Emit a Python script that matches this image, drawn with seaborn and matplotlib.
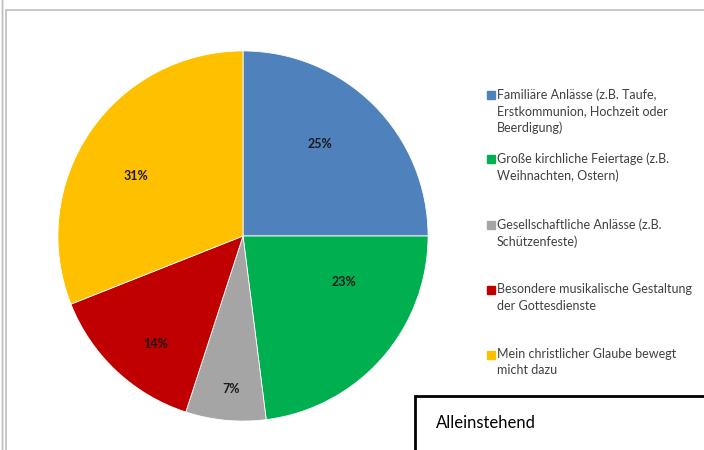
import matplotlib
matplotlib.use("Agg")
import numpy as np
import matplotlib.pyplot as plt
import seaborn as sns
from matplotlib.patches import Rectangle

# Daten
kategorien = [
    "Familiäre Anlässe (z.B. Taufe,\nErstkommunion, Hochzeit oder\nBeerdigung)",
    "Große kirchliche Feiertage (z.B.\nWeihnachten, Ostern)",
    "Gesellschaftliche Anlässe (z.B.\nSchützenfeste)",
    "Besondere musikalische Gestaltung\nder Gottesdienste",
    "Mein christlicher Glaube bewegt\nmicht dazu",
]
anteile = [25, 23, 7, 14, 31]
farben = ["#4F81BD", "#00B050", "#A5A5A5", "#C00000", "#FFC000"]
titel_box = "Alleinstehend"

# Beschriftungsposition wie in Excel ("beste Anpassung")
label_abstand = [0.65, 0.60, 0.83, 0.75, 0.66]
label_drehung = [5, 17, 1, 4, 5]

sns.set_theme(style="white")
plt.rcParams["font.family"] = ["Lato", "DejaVu Sans"]

fig = plt.figure(figsize=(7.04, 4.5), dpi=100)
W, H = 704, 450

# Rahmen
fig.patches.append(Rectangle((6 / W, -0.1), 1.1, (450 - 10) / H + 0.1,
                             transform=fig.transFigure, fill=False,
                             edgecolor="#BFBFBF", linewidth=1.2))
fig.patches.append(Rectangle((2 / W, -0.1), 0, 1.2, transform=fig.transFigure,
                             fill=False, edgecolor="#BFBFBF", linewidth=1))

# Kreisdiagramm
ax = fig.add_axes([57 / W, 28 / H, 372 / W, 372 / H])
wedges, texts, autotexts = ax.pie(
    anteile, colors=farben, startangle=90, counterclock=False,
    autopct="%d%%", pctdistance=0.65,
    wedgeprops=dict(edgecolor="white", linewidth=0.6),
    textprops=dict(fontsize=9, fontweight="bold", color="#1a1a1a"),
)
for w, t, r, d in zip(wedges, autotexts, label_abstand, label_drehung):
    winkel = np.deg2rad((w.theta1 + w.theta2) / 2 + d)
    t.set_position((r * np.cos(winkel), r * np.sin(winkel)))
ax.set_xlim(-1.005, 1.005)
ax.set_ylim(-1.005, 1.005)
ax.set_aspect("equal")

# Legende
y_pos = [95, 159, 225, 290, 355]
for lab, col, y in zip(kategorien, farben, y_pos):
    fig.patches.append(Rectangle((487 / W, (H - y - 4) / H), 8 / W, 8 / H,
                                 transform=fig.transFigure, color=col))
    fig.text(497 / W, (H - y + 7) / H, lab, fontsize=9, va="top", ha="left",
             color="#404040", linespacing=1.45)

# Box unten rechts
fig.patches.append(Rectangle((415 / W, -0.1), 0.6, (450 - 396) / H + 0.1,
                             transform=fig.transFigure, fill=True,
                             facecolor="white", edgecolor="black", linewidth=2))
fig.text(436 / W, (H - 423) / H, titel_box, fontsize=12, va="center",
         ha="left", color="black")

fig.savefig("out.png", dpi=100)
